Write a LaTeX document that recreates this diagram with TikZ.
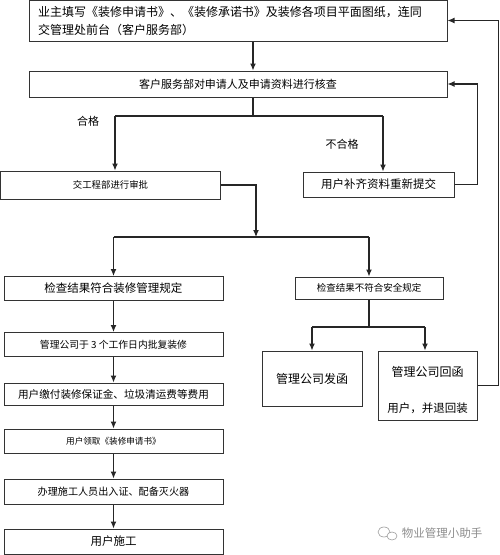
\documentclass[tikz,border=0pt]{standalone}
\usepackage{fontspec}
\setmainfont{Noto Sans CJK SC}
\usetikzlibrary{arrows,arrows.meta,positioning,calc}

\begin{document}
\begin{tikzpicture}[
    x=1pt, y=-1pt, >={Latex[length=7pt,width=6pt]},
    stepbox/.style={rectangle, draw=black!80, line width=1pt, align=center, inner sep=0pt},
    leftbox/.style={stepbox, minimum width=219pt, minimum height=24pt},
    flow/.style={->, line width=1.1pt, draw=black!85},
    link/.style={line width=1.1pt, draw=black!85},
    tag/.style={font=\fontsize{11}{13}\selectfont},
]
    \useasboundingbox (0,0) rectangle (500,555);

    % Application and check
    \node[stepbox, minimum width=418pt, minimum height=41pt, text width=400pt, align=left,
          font=\fontsize{12}{18}\selectfont] (apply) at (238,20.5) {
        业主填写《装修申请书》、《装修承诺书》及装修各项目平面图纸，连同\\
        交管理处前台（客户服务部）
    };
    \node[stepbox, minimum width=418pt, minimum height=26pt,
          font=\fontsize{11}{13}\selectfont] (check) at (238,84) {客户服务部对申请人及申请资料进行核查};

    \coordinate (spine) at (253,0);
    \draw[flow] (apply.south -| spine) -- (check.north -| spine);

    % First decision
    \node[stepbox, minimum width=220pt, minimum height=28pt,
          font=\fontsize{9.4}{11}\selectfont] (shen) at (110.5,185) {交工程部进行审批};
    \node[stepbox, minimum width=151pt, minimum height=25pt,
          font=\fontsize{11.5}{13}\selectfont] (buqi) at (378.5,184.5) {用户补齐资料重新提交};

    \coordinate (fork1) at (253,116);
    \coordinate (okend) at (115,116);
    \coordinate (ngend) at (383,116);
    \draw[link] (check.south -| fork1) -- (fork1);
    \draw[link] (okend) -- (ngend);
    \draw[flow] (okend) -- (okend |- shen.north);
    \draw[flow] (ngend) -- (ngend |- buqi.north);
    \node[tag] (ok) at (88,121) {合格};
    \node[tag] (ng) at (342,144) {不合格};

    % Second decision
    \node[leftbox, font=\fontsize{11.5}{13}\selectfont] (fuhe) at (113.5,288.5) {检查结果符合装修管理规定};
    \node[stepbox, minimum width=148pt, minimum height=22pt,
          font=\fontsize{9.5}{11}\selectfont] (bufu) at (369,288) {检查结果不符合安全规定};

    \coordinate (fork2) at (256,237);
    \coordinate (passend) at (113.5,237);
    \coordinate (failend) at (369,237);
    \draw[flow] (shen.east) -| (fork2);
    \draw[link] (passend) -- (failend);
    \draw[flow] (passend) -- (fuhe);
    \draw[flow] (failend) -- (bufu);

    % Left column
    \node[leftbox, font=\fontsize{9.8}{11}\selectfont] (pifu) at (113.5,344.5) {管理公司于 3 个工作日内批复装修};
    \node[leftbox, minimum height=22pt, font=\fontsize{10.6}{12}\selectfont] (jiaofei) at (113.5,394) {用户缴付装修保证金、垃圾清运费等费用};
    \node[leftbox, font=\fontsize{8.6}{10}\selectfont] (lingqu) at (113.5,441) {用户领取《装修申请书》};
    \node[leftbox, minimum height=25pt, font=\fontsize{10.1}{12}\selectfont] (banli) at (113.5,491.5) {办理施工人员出入证、配备灭火器};
    \node[leftbox, minimum height=25pt, font=\fontsize{11.5}{13}\selectfont] (shigong) at (113.5,541.5) {用户施工};

    \foreach \a/\b in {fuhe/pifu, pifu/jiaofei, jiaofei/lingqu, lingqu/banli, banli/shigong}
        \draw[flow] (\a) -- (\b);

    % Right column
    \node[stepbox, minimum width=100pt, minimum height=55pt,
          font=\fontsize{12}{15}\selectfont] (fahan) at (312,378.5) {管理公司发函};
    \node[stepbox, minimum width=99pt, minimum height=69pt,
          font=\fontsize{12}{15}\selectfont] (huihan) at (427.5,385.5) {
        \rule{0pt}{20pt}管理公司回函\\[21pt]
        {\fontsize{11.5}{13}\selectfont 用户，并退回装}
    };

    \coordinate (split) at (369,327);
    \coordinate (sendend) at (312,327);
    \coordinate (replyend) at (425,327);
    \draw[link] (bufu) -- (split);
    \draw[link] (sendend) -- (replyend);
    \draw[flow] (sendend) -- (fahan);
    \draw[flow] (replyend) -- (replyend |- huihan.north);

    % Feedback loops
    \draw[flow] (buqi.east) -- ++(23,0) |- (check.east);
    \draw[flow] (huihan.east) -- ++(21,0) |- (apply.east);

    % Watermark
    \draw[black!40, line width=0.6pt] (384,532) ellipse (6pt and 5pt);
    \draw[black!40, line width=0.6pt, fill=white] (392,536) ellipse (5pt and 4pt);
    \node[font=\fontsize{11.5}{13}\selectfont, text=black!45] (mark) at (442,533) {物业管理小助手};
\end{tikzpicture}
\end{document}
